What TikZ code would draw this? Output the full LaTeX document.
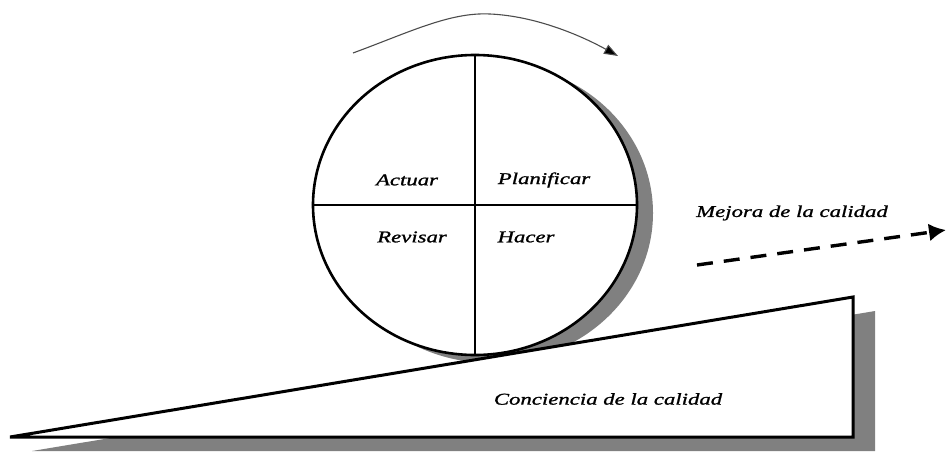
\documentclass[tikz,border=0pt]{standalone}
\usepackage{fontspec}
\setmainfont{Liberation Serif}[FakeStretch=1.38]
\newfontfamily\lblfont{Liberation Serif}[FakeStretch=1.38,FakeBold=1.2]
\usetikzlibrary{arrows.meta,shapes.geometric}
\tikzset{
  lbl/.style={font=\lblfont\fontsize{16.5}{18}\selectfont\itshape, inner sep=0},
  shadowfill/.style={fill=black!50, draw=none},
}
\begin{document}
\begin{tikzpicture}[x=1pt,y=-1pt]
\useasboundingbox (0,0) rectangle (949,453);
% wheel shadow
\node[ellipse, shadowfill, minimum width=324, minimum height=300, inner sep=0] (wheelshadow) at (491,213) {};
% wheel
\node[ellipse, draw, fill=white, line width=2.6, minimum width=324, minimum height=300, inner sep=0] (wheel) at (475,205) {};
\draw[line width=1.3] (wheel.north) -- (wheel.south);
\draw[line width=1.3] (wheel.west) -- (wheel.east);
% ramp shadow
\coordinate (rsl) at (32,451);
\coordinate (rstr) at (875,311);
\coordinate (rsbr) at (875,451);
\fill[black!50] (rsl) -- (rstr) -- (rsbr) -- cycle;
% ramp
\coordinate (rl) at (10,437);
\coordinate (rtr) at (853,297);
\coordinate (rbr) at (853,437);
\draw[line width=3, fill=white, line join=miter] (rl) -- (rtr) -- (rbr) -- cycle;
% labels
\node[lbl] (act) at (407,180) {Actuar};
\node[lbl] (plan) at (544,180) {Planificar};
\node[lbl] (rev) at (412,237) {Revisar};
\node[lbl] (hac) at (526,237) {Hacer};
\node[lbl] (mej) at (792,213) {Mejora de la calidad};
\node[lbl] (conc) at (608,399) {Conciencia de la calidad};
% rotation arrow
\coordinate (ra) at (353,53);
\coordinate (rb) at (490,14);
\coordinate (rc) at (618,56);
\draw[black!70, line width=1.1, -{Triangle[length=14pt,width=10pt,fill=black]}]
  (ra) .. controls (410,32) and (450,12) .. (rb) .. controls (535,16) and (580,35) .. (rc);
% dashed arrow
\coordinate (da) at (697,265);
\coordinate (db) at (946,230);
\draw[line width=3.4, dash pattern=on 16pt off 11pt, -{Latex[length=17pt,width=18pt]}] (da) -- (db);
\end{tikzpicture}
\end{document}
